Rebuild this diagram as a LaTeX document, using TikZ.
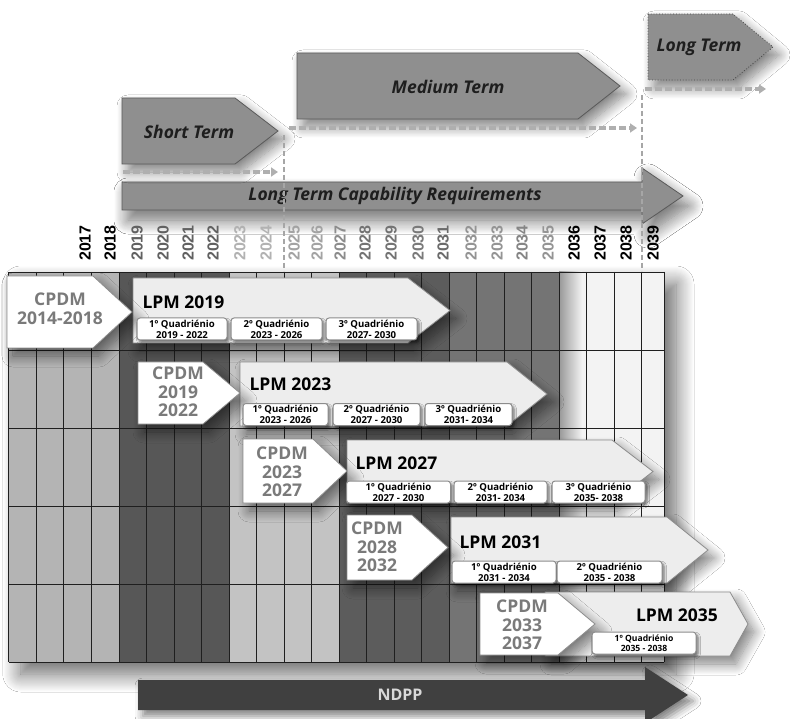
\documentclass[tikz,border=0pt]{standalone}
\usepackage{fontspec}
\setmainfont{Open Sans}
\newfontfamily\yearfont{Liberation Sans}
\usetikzlibrary{shadows.blur,arrows.meta}

\definecolor{termfill}{HTML}{8F8F8F}
\definecolor{termedge}{HTML}{5A5A5A}
\definecolor{termtext}{HTML}{1E1E1E}
\definecolor{lpmfill}{HTML}{EDEDED}
\definecolor{boxedge}{HTML}{8C8C8C}
\definecolor{cpdmtext}{HTML}{7A7A7A}
\definecolor{dashgray}{HTML}{A6A6A6}
\definecolor{colA}{HTML}{B4B4B4}
\definecolor{colB}{HTML}{575757}
\definecolor{colC}{HTML}{C3C3C3}
\definecolor{colD}{HTML}{5C5C5C}
\definecolor{colE}{HTML}{747474}
\definecolor{colF}{HTML}{F3F3F3}
\definecolor{ndppfill}{HTML}{404040}

% five-sided arrow: left x, corner x, tip x, top y, bottom y
\newcommand\pentabox[6]{%
  \path[#1] (#2,#5) -- (#3,#5) -- (#4,{(#5+#6)/2}) -- (#3,#6) -- (#2,#6) -- cycle;}

\tikzset{
  softshadow/.style={blur shadow={shadow xshift=6pt, shadow yshift=-8pt,
      shadow blur radius=11pt, shadow blur steps=14, shadow opacity=50}},
  termbox/.style={fill=termfill, draw=termedge, line width=0.8pt, softshadow},
  termlbl/.style={font=\bfseries\itshape\fontsize{17.5}{20}\selectfont, text=termtext},
  lpmbox/.style={fill=lpmfill, draw=boxedge, line width=0.8pt, softshadow},
  cpdmbox/.style={fill=white, draw=boxedge, line width=0.8pt, softshadow},
  cpdmlbl/.style={font=\bfseries\fontsize{17.5}{18.5}\selectfont, text=cpdmtext, align=center},
  lpmlbl/.style={font=\bfseries\fontsize{17.5}{20}\selectfont, text=black, anchor=west},
  quad/.style={draw=boxedge, fill=white, line width=1pt, rounded corners=3pt,
      inner sep=0pt, minimum height=22pt, align=center,
      font=\bfseries\fontsize{9.6}{11}\selectfont,
      blur shadow={shadow xshift=2pt, shadow yshift=-2.5pt, shadow blur radius=2.5pt, shadow opacity=55}},
  yearlbl/.style={rotate=90, font=\yearfont\bfseries\fontsize{16}{16}\selectfont, inner sep=0pt},
  gridln/.style={draw=black!88, line width=0.7pt},
  vdash/.style={draw=dashgray, line width=1.8pt, dash pattern=on 5pt off 3pt},
  dasharrow/.style={draw=dashgray!90, line width=3.2pt, dash pattern=on 7pt off 3pt,
      -{Triangle[length=7pt,width=9pt]}},
}

\begin{document}
\begin{tikzpicture}[x=1pt,y=-1pt]
\useasboundingbox (0,0) rectangle (790,719);
\fill[white] (0,0) rectangle (790,719);

% ---- timeline grid ----
\path[fill=white, blur shadow={shadow xshift=12pt, shadow yshift=-12pt,
   shadow blur radius=18pt, shadow blur steps=18, shadow opacity=60}]
   (8.8,272) rectangle (664,662);
\fill[colA] (8.8,272) rectangle (118.9,662);
\fill[colB] (118.9,272) rectangle (229.0,662);
\fill[colC] (229.0,272) rectangle (339.1,662);
\fill[colD] (339.1,272) rectangle (449.2,662);
\fill[colE] (449.2,272) rectangle (559.2,662);
\fill[colF] (559.2,272) rectangle (664,662);
\shade[left color=black!40, right color=colF] (559.2,272) rectangle (582,662);
\foreach \k in {0,...,23}
  \draw[gridln] ({8.8+27.52*\k},272) -- ({8.8+27.52*\k},662);
\draw[gridln] (664,272) -- (664,662);
\foreach \yy in {272,350,428,506,584,662}
  \draw[gridln] (8.8,\yy) -- (664,\yy);

% ---- horizon arrows ----
\path[termbox, blur shadow={shadow xshift=6pt, shadow yshift=-10pt, shadow blur radius=14pt, shadow opacity=32}]
  (122,182) -- (642,182) -- (642,168) -- (683,196) -- (642,224) -- (642,210) -- (122,210) -- cycle;
\node[termlbl] (ltcr) at (395,196) {Long Term Capability Requirements};

\pentabox{termbox}{122}{235}{278}{98}{164}
\node[termlbl] (short) at (189,132) {Short Term};
\pentabox{termbox}{297}{578}{620}{53}{119}
\node[termlbl] (medium) at (448,87) {Medium Term};
\pentabox{termbox, draw=termedge!80!black, dotted}{648}{733}{773}{14}{80}
\node[termlbl] (long) at (699,47) {Long Term};

\coordinate (s1) at (123,172); \coordinate (s2) at (278,172);
\coordinate (m1) at (289,128); \coordinate (m2) at (637,128);
\coordinate (l1) at (645,89);  \coordinate (l2) at (766,89);
\draw[dasharrow] (s1) -- (s2);
\draw[dasharrow] (m1) -- (m2);
\draw[dasharrow] (l1) -- (l2);

\coordinate (v1a) at (284,135); \coordinate (v1b) at (284,271);
\coordinate (v2a) at (642,95);  \coordinate (v2b) at (642,271);
\draw[vdash] (v1a) -- (v1b);
\draw[vdash] (v2a) -- (v2b);

% ---- year labels ----
\foreach \yr/\xx/\cl in {2017/85/black, 2018/110/black, 2019/137/black!62, 2020/163/black!62,
   2021/188/black!62, 2022/213/black!62, 2023/240/black!30, 2024/266/black!30,
   2025/294/black!36, 2026/317/black!36, 2027/340/black!45, 2028/365/black!55,
   2029/391/black!55, 2030/418/black!52, 2031/443/black!58, 2032/471/black!42,
   2033/497/black!42, 2034/522/black!48, 2035/548/black!42, 2036/574/black,
   2037/600/black, 2038/626/black, 2039/653/black}
  \node[yearlbl, text=\cl] (y\yr) at (\xx,243) {\yr};

% ---- row 1 ----
\pentabox{lpmbox}{133}{408}{450}{278}{343}
\pentabox{cpdmbox}{7}{93}{132}{276}{348}
\node[cpdmlbl] (c1) at (60,309) {CPDM\\2014-2018};
\node[lpmlbl] (p1) at (139,302) {LPM 2019};
\node[quad, minimum width=90pt] (q11) at (182,329) {1º Quadriénio\\2019 - 2022};
\node[quad, minimum width=91pt] (q12) at (276.5,329) {2º Quadriénio\\2023 - 2026};
\node[quad, minimum width=91pt] (q13) at (371.5,329) {3º Quadriénio\\2027- 2030};

% ---- row 2 ----
\pentabox{lpmbox}{240}{507}{547}{362}{426}
\pentabox{cpdmbox}{138}{203}{240}{362}{424}
\node[cpdmlbl] (c2) at (178,392) {CPDM\\2019\\2022};
\node[lpmlbl] (p2) at (246,384) {LPM 2023};
\node[quad, minimum width=85pt] (q21) at (285.5,414.5) {1º Quadriénio\\2023 - 2026};
\node[quad, minimum width=87pt] (q22) at (376.5,414.5) {2º Quadriénio\\2027 - 2030};
\node[quad, minimum width=87pt] (q23) at (468.5,414.5) {3º Quadriénio\\2031- 2034};

% ---- row 3 ----
\pentabox{lpmbox}{347}{612}{653}{440}{503}
\pentabox{cpdmbox}{243}{313}{347}{439}{503}
\node[cpdmlbl] (c3) at (282,472) {CPDM\\2023\\2027};
\node[lpmlbl] (p3) at (352,463) {LPM 2027};
\node[quad, minimum width=104pt] (q31) at (398.5,492) {1º Quadriénio\\2027 - 2030};
\node[quad, minimum width=93pt] (q32) at (500.5,492) {2º Quadriénio\\2031- 2034};
\node[quad, minimum width=93pt] (q33) at (598.5,492) {3º Quadriénio\\2035- 2038};

% ---- row 4 ----
\pentabox{lpmbox}{451}{667}{708}{517}{583}
\pentabox{cpdmbox}{347}{412}{448}{515}{580}
\node[cpdmlbl] (c4) at (377,547) {CPDM\\2028\\2032};
\node[lpmlbl] (p4) at (456,542) {LPM 2031};
\node[quad, minimum width=104pt] (q41) at (504,572) {1º Quadriénio\\2031 - 2034};
\node[quad, minimum width=105pt] (q42) at (609.5,572) {2º Quadriénio\\2035 - 2038};

% ---- row 5 ----
\pentabox{lpmbox}{545}{730}{748}{592}{656}
\pentabox{cpdmbox}{480}{558}{595}{593}{655}
\node[cpdmlbl] (c5) at (522,625) {CPDM\\2033\\2037};
\node[lpmlbl, anchor=center] (p5) at (677,615) {LPM 2035};
\node[quad, minimum width=104pt, font=\bfseries\fontsize{8.6}{10.5}\selectfont] (q51) at (644,643) {1º Quadriénio\\2035 - 2038};

% ---- NDPP band ----
\path[fill=ndppfill, blur shadow={shadow xshift=5pt, shadow yshift=-6pt, shadow blur radius=8pt, shadow opacity=50}]
  (138,680) -- (645,680) -- (645,667) -- (688,695) -- (645,723) -- (645,710) -- (138,710) -- cycle;
\node[font=\bfseries\fontsize{16}{18}\selectfont, text=black!15] (ndpp) at (400,695) {NDPP};
\end{tikzpicture}
\end{document}
